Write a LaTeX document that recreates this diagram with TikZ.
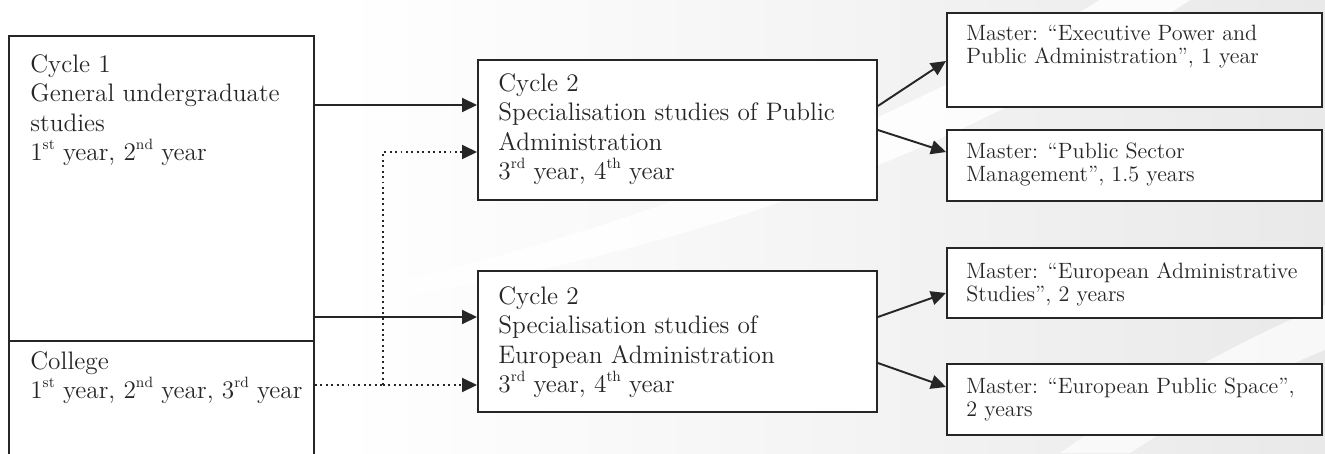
\documentclass[tikz,border=0pt]{standalone}
\usepackage{amsmath,amssymb}
\usepackage{tikz}
\usetikzlibrary{positioning,arrows.meta,shapes}

\definecolor{inkgray}{HTML}{262626}
\definecolor{paperback}{HTML}{E9E9E9}
\newcommand{\ordsup}[1]{\raisebox{0.45em}{\fontsize{8.5}{8.5}\selectfont #1}}

\begin{document}
\begin{tikzpicture}[x=0.02cm, y=-0.02cm,
    box/.style={draw=inkgray, line width=1.1pt, rectangle, anchor=north west, inner sep=0pt},
    bigtext/.style={anchor=north west, inner sep=0pt, align=left, text=inkgray,
        font=\fontsize{14.4}{16.8}\selectfont},
    smalltext/.style={anchor=north west, inner sep=0pt, align=left, text=inkgray,
        font=\fontsize{12.6}{13.1}\selectfont},
    flow/.style={draw=inkgray, line width=1.1pt, -{Triangle[length=0.3cm, width=0.28cm]}},
    dots/.style={draw=inkgray, line width=1.1pt, dotted}]
    \useasboundingbox (0,0) rectangle (1325,453);

    % Background swooshes
    \shade[left color=white, right color=paperback] (340,0) rectangle (1325,453);
    \fill[white, opacity=0.85] (380,285) .. controls (700,215) and (950,90) .. (1100,0)
        -- (1190,0) .. controls (1010,120) and (760,240) .. (380,300) -- cycle;
    \fill[white, opacity=0.7] (1060,453) .. controls (1150,390) and (1240,340) .. (1325,305)
        -- (1325,350) .. controls (1250,380) and (1180,420) .. (1130,453) -- cycle;

    % Cycle 1 and College
    \node[box, minimum width=6.1cm, minimum height=6.1cm] (c1) at (8,35) {};
    \node[box, minimum width=6.1cm, minimum height=3cm] (col) at (8,340) {};
    \node[bigtext] (c1text) at (30,54) {Cycle 1\\General undergraduate\\studies\\1\ordsup{st} year, 2\ordsup{nd} year};
    \node[bigtext] (coltext) at (30,351) {College\\1\ordsup{st} year, 2\ordsup{nd} year, 3\ordsup{rd} year};

    % Cycle 2 boxes
    \node[box, fill=white, minimum width=7.98cm, minimum height=2.8cm] (c2a) at (477,59) {};
    \node[box, fill=white, minimum width=7.98cm, minimum height=2.82cm] (c2b) at (477,270) {};
    \node[bigtext] (c2atext) at (498,73) {Cycle 2\\Specialisation studies of Public\\Administration\\3\ordsup{rd} year, 4\ordsup{th} year};
    \node[bigtext] (c2btext) at (498,286) {Cycle 2\\Specialisation studies of\\European Administration\\3\ordsup{rd} year, 4\ordsup{th} year};

    % Master programmes
    \node[box, fill=white, minimum width=7.5cm, minimum height=1.88cm] (m1) at (946,12) {};
    \node[box, fill=white, minimum width=7.5cm, minimum height=1.42cm] (m2) at (946,129) {};
    \node[box, fill=white, minimum width=7.5cm, minimum height=1.4cm] (m3) at (946,247) {};
    \node[box, fill=white, minimum width=7.5cm, minimum height=1.42cm] (m4) at (946,363) {};
    \node[smalltext] (m1text) at (966,25) {Master: “Executive Power and\\Public Administration”, 1 year};
    \node[smalltext] (m2text) at (966,143) {Master: “Public Sector\\Management”, 1.5 years};
    \node[smalltext] (m3text) at (966,262) {Master: “European Administrative\\Studies”, 2 years};
    \node[smalltext] (m4text) at (966,378) {Master: “European Public Space”,\\2 years};

    % Arrows into cycle 2
    \draw[flow] (c1.east |- 0,105) -- (c2a.west |- 0,105);
    \draw[flow] (c1.east |- 0,317) -- (c2b.west |- 0,317);
    \coordinate (split) at (383,385);
    \draw[dots] (col.east |- split) -- (split);
    \draw[flow, dotted] (split) -- (c2b.west |- split);
    \draw[flow, dotted] (split) |- (c2a.west |- 0,152);

    % Arrows into masters
    \draw[flow] (c2a.east |- 0,106) -- (m1.west |- 0,61);
    \draw[flow] (c2a.east |- 0,130) -- (m2.west |- 0,152);
    \draw[flow] (c2b.east |- 0,317) -- (m3.west |- 0,293);
    \draw[flow] (c2b.east |- 0,363) -- (m4.west |- 0,387);
\end{tikzpicture}
\end{document}
